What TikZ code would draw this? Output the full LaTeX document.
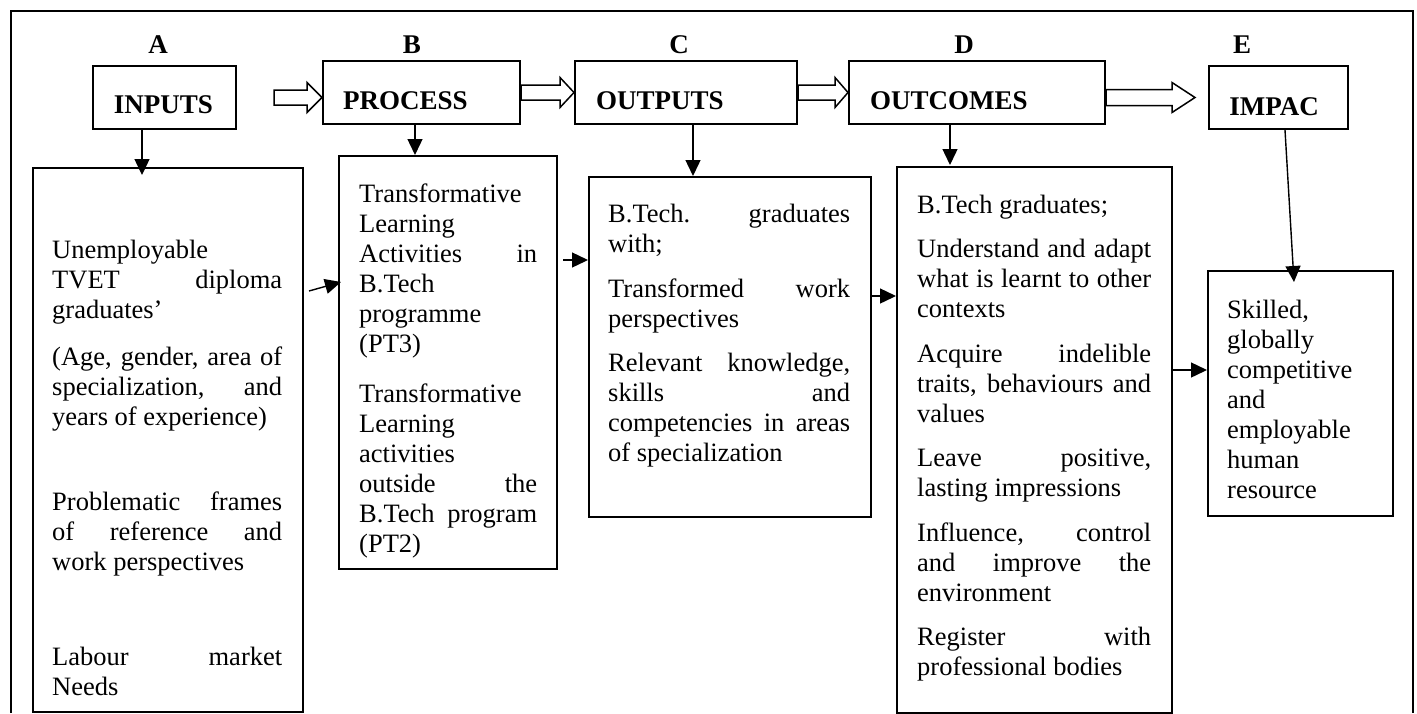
\documentclass[tikz,border=0pt]{standalone}
\usepackage{fontspec}
\setmainfont{Liberation Serif}
\usetikzlibrary{arrows.meta,calc}
\tolerance=10000
\hyphenpenalty=10000
\hbadness=10000
\newcommand{\fatarrow}[4]{%
  \draw[fatline] let \p1=(#1), \p2=(#2) in
    (\x1,\y1-#4) -- (\x2-#3,\y1-#4) -- (\x2-#3,\y1-15pt) -- (\x2,\y1)
    -- (\x2-#3,\y1+15pt) -- (\x2-#3,\y1+#4) -- (\x1,\y1+#4) -- cycle;}
\begin{document}
\begin{tikzpicture}[x=1pt,y=-1pt,
  box/.style={draw, rectangle, line width=2pt, inner sep=0pt, anchor=north west},
  head/.style={inner sep=0pt, anchor=base, font=\fontsize{27}{30}\selectfont\bfseries},
  headl/.style={head, anchor=base west},
  txt/.style={inner sep=0pt, anchor=base west, align=justify,
    font=\fontsize{26.5}{30}\selectfont},
  txtl/.style={inner sep=0pt, anchor=base west, align=left,
    font=\fontsize{26.5}{30}\selectfont},
  arr/.style={line width=1.4pt, -{Triangle[length=16pt,width=15pt]}},
  fatline/.style={line width=1.5pt, fill=white},
  frame/.style={line width=2.5pt}
]
\useasboundingbox (0,0) rectangle (1417,713);
\draw[frame] (11,713) -- (11,11) -- (1413,11) -- (1413,713);

% column letters
\node[head] (lA) at (158,53) {A};
\node[head] (lB) at (412,53) {B};
\node[head] (lC) at (679,53) {C};
\node[head] (lD) at (964,53) {D};
\node[head] (lE) at (1242,53) {E};

% top boxes
\node[box, minimum width=143pt, minimum height=63pt] (inputs) at (92,65) {};
\node[box, minimum width=197pt, minimum height=63pt] (process) at (322,60) {};
\node[box, minimum width=222pt, minimum height=63pt] (outputs) at (574,60) {};
\node[box, minimum width=256pt, minimum height=63pt] (outcomes) at (848,60) {};
\node[box, minimum width=139pt, minimum height=63pt] (impac) at (1208,65) {};

\node[head] (hInputs) at (163.5,113) {INPUTS};
\node[headl] (hProcess) at (343,109) {PROCESS};
\node[headl] (hOutputs) at (596,109) {OUTPUTS};
\node[headl] (hOutcomes) at (870,109) {OUTCOMES};
\node[head] (hImpac) at (1274,115) {IMPAC};

% content boxes
\node[box, minimum width=270pt, minimum height=544pt] (boxA) at (32,167) {};
\node[box, minimum width=218pt, minimum height=413pt] (boxB) at (338,155) {};
\node[box, minimum width=282pt, minimum height=340pt] (boxC) at (588,176) {};
\node[box, minimum width=275pt, minimum height=546pt] (boxD) at (896,166) {};
\node[box, minimum width=185pt, minimum height=245pt] (boxE) at (1207,270) {};

\node[txt, text width=230pt] (tA) at (52,258) {%
Unemployable\newline
TVET diploma\linebreak
graduates’\par\vspace{17pt}
(Age, gender, area of\linebreak
specialization, and\linebreak
years of experience)\par\vspace{55pt}
Problematic frames\linebreak
of reference and\linebreak
work perspectives\par\vspace{65pt}
Labour market\linebreak
Needs};

\node[txt, text width=178pt] (tB) at (359,202) {%
Transformative\newline
Learning\newline
Activities in\linebreak
B.Tech\newline
programme\newline
(PT3)\par\vspace{20pt}
Transformative\newline
Learning\newline
activities\newline
outside the\linebreak
B.Tech program\linebreak
(PT2)};

\node[txt, text width=242pt] (tC) at (608,222) {%
B.Tech. graduates\linebreak
with;\par\vspace{15pt}
Transformed work\linebreak
perspectives\par\vspace{14pt}
Relevant knowledge,\linebreak
skills and\linebreak
competencies in areas\linebreak
of specialization};

\node[txt, text width=234pt] (tD) at (917,213) {%
B.Tech graduates;\par\vspace{14.5pt}
Understand and adapt\linebreak
what is learnt to other\linebreak
contexts\par\vspace{14.5pt}
Acquire indelible\linebreak
traits, behaviours and\linebreak
values\par\vspace{14.5pt}
Leave positive,\linebreak
lasting impressions\par\vspace{14.5pt}
Influence, control\linebreak
and improve the\linebreak
environment\par\vspace{14.5pt}
Register with\linebreak
professional bodies};

\node[txtl, text width=145pt] (tE) at (1227,318) {%
Skilled,\\ globally\\ competitive\\ and\\ employable\\ human\\ resource};

% hollow block arrows
\fatarrow{$(inputs.east)+(37,0)$}{inputs.east -| process.west}{15pt}{7.5pt}
\fatarrow{process.east}{process.east -| outputs.west}{14pt}{7.5pt}
\fatarrow{outputs.east}{outputs.east -| outcomes.west}{13pt}{7.5pt}
\fatarrow{outcomes.east |- impac.west}{$(impac.west)+(-13,0)$}{23pt}{8pt}

% down arrows
\draw[arr] ([xshift=-22.5pt]inputs.south) -- ([shift={(-22.5,8)}]inputs.south |- boxA.north);
\draw[arr] ([xshift=-6.5pt]process.south) -- ([xshift=-6.5pt]process.south |- boxB.north);
\draw[arr] ([xshift=7pt]outputs.south) -- ([xshift=7pt]outputs.south |- boxC.north);
\draw[arr] ([xshift=-27pt]outcomes.south) -- ([shift={(-27,-1)}]outcomes.south |- boxD.north);
\draw[arr] ([xshift=6.5pt]impac.south) -- ([shift={(-6.5,12)}]boxE.north);

% side arrows
\draw[arr] ([shift={(5,124)}]boxA.north east) -- ([shift={(3,127)}]boxB.north west);
\draw[arr] ([shift={(5,105)}]boxB.north east) -- ([shift={(0,84)}]boxC.north west);
\draw[arr] ([shift={(0,120)}]boxC.north east) -- ([shift={(0,130)}]boxD.north west);
\draw[arr] ([shift={(0,204)}]boxD.north east) -- ([shift={(0,100)}]boxE.north west);
\end{tikzpicture}
\end{document}
